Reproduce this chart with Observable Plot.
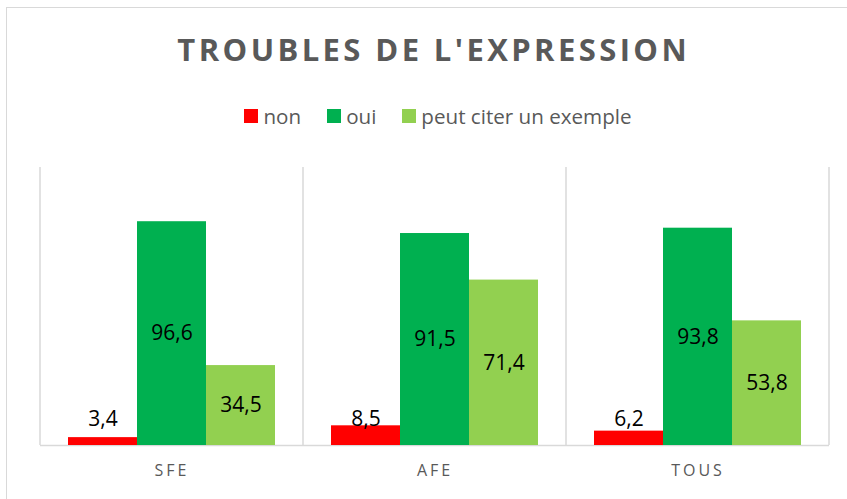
<!DOCTYPE html>
<html>
<head>
<meta charset="utf-8">
<script src="https://cdn.jsdelivr.net/npm/d3@7"></script>
<script src="https://cdn.jsdelivr.net/npm/@observablehq/plot@0.6"></script>
<style>
  html, body { margin: 0; padding: 0; background: #fff; width: 847px; height: 499px; overflow: hidden; }
  #frame { position: absolute; left: 6px; top: 7px; width: 900px; height: 600px;
           border-left: 1px solid #d9d9d9; border-top: 1px solid #d9d9d9; box-sizing: border-box; }
  #title { position: absolute; left: 0; top: 29px; width: 864px; text-align: center;
           font-family: "Open Sans", sans-serif; font-weight: 700; font-size: 31px; line-height: 40px;
           letter-spacing: 3.4px; padding-left: 3.4px; box-sizing: border-box; color: #595959; }
  #legend { position: absolute; left: 0; top: 102px; width: 876px; display: flex; justify-content: center;
            font-family: "Open Sans", sans-serif; font-size: 20.6px; line-height: 28px; color: #595959; }
  .item { display: flex; align-items: center; margin: 0 13px; }
  .sw { width: 14px; height: 14px; margin-right: 5px; }
  #chart { position: absolute; left: 0; top: 145px; }
  #chart svg [aria-label^="fx-axis"] text { letter-spacing: 3px !important; font-size: 16px !important; }
</style>
</head>
<body>
<div id="frame"></div>
<div id="title"></div>
<div id="legend"></div>
<div id="chart"></div>
<script>
const chartTitle = "TROUBLES DE L'EXPRESSION";
const groups = ["SFE", "AFE", "TOUS"];
const series = ["non", "oui", "peut citer un exemple"];
const colors = ["#ff0000", "#00b050", "#92d050"];
const nonValues = [3.4, 8.5, 6.2];
const ouiValues = [96.6, 91.5, 93.8];
const exempleValues = [34.5, 71.4, 53.8];
const yMax = 120;

const seriesValues = [nonValues, ouiValues, exempleValues];
const table = groups.flatMap((g, i) => series.map((s, j) => ({group: g, series: s, value: seriesValues[j][i]})));

document.getElementById("title").textContent = chartTitle;
const legend = d3.select("#legend");
series.forEach((s, j) => {
  const it = legend.append("div").attr("class", "item");
  it.append("div").attr("class", "sw").style("background", colors[j]);
  it.append("span").text(s);
});

const plot = Plot.plot({
  width: 847,
  height: 354,
  marginLeft: 39,
  marginRight: 17,
  marginTop: 22,
  marginBottom: 54,
  style: {fontFamily: "Open Sans", fontSize: "16px", color: "#595959", background: "transparent"},
  facet: {data: table, x: "group"},
  fx: {domain: groups, padding: 0, axis: "bottom", label: null, tickSize: 0, tickPadding: 19},
  x: {domain: series, paddingInner: 0, paddingOuter: 0.395, axis: null},
  y: {domain: [0, yMax], axis: null},
  color: {domain: series, range: colors},
  marks: [
    Plot.ruleY([0], {stroke: "#d9d9d9", strokeWidth: 1.5}),
    Plot.barY(table, {x: "series", y: "value", fill: "series", inset: 0}),
    Plot.text(table, {
      x: "series",
      y: d => Math.max(d.value / 2, 11.5),
      text: d => d.value.toFixed(1).replace(".", ","),
      fill: "#000",
      fontSize: 21
    })
  ]
});

document.getElementById("chart").appendChild(plot);

// vertical separators between groups, from the library's fx and y scales
const fxS = plot.scale("fx");
const yS = plot.scale("y");
const bw = fxS.bandwidth != null ? fxS.bandwidth : (fxS.range[1] - fxS.range[0]) / fxS.domain.length;
const edges = groups.map(g => fxS.apply(g)).concat([fxS.apply(groups[groups.length - 1]) + bw]);
const svg = d3.select(plot.tagName.toLowerCase() === "svg" ? plot : plot.querySelector("svg"));
svg.insert("g", ":first-child")
  .selectAll("line")
  .data(edges)
  .join("line")
  .attr("x1", d => d).attr("x2", d => d)
  .attr("y1", yS.apply(yMax)).attr("y2", yS.apply(0))
  .attr("stroke", "#d9d9d9")
  .attr("stroke-width", 1.5);
</script>
</body>
</html>
